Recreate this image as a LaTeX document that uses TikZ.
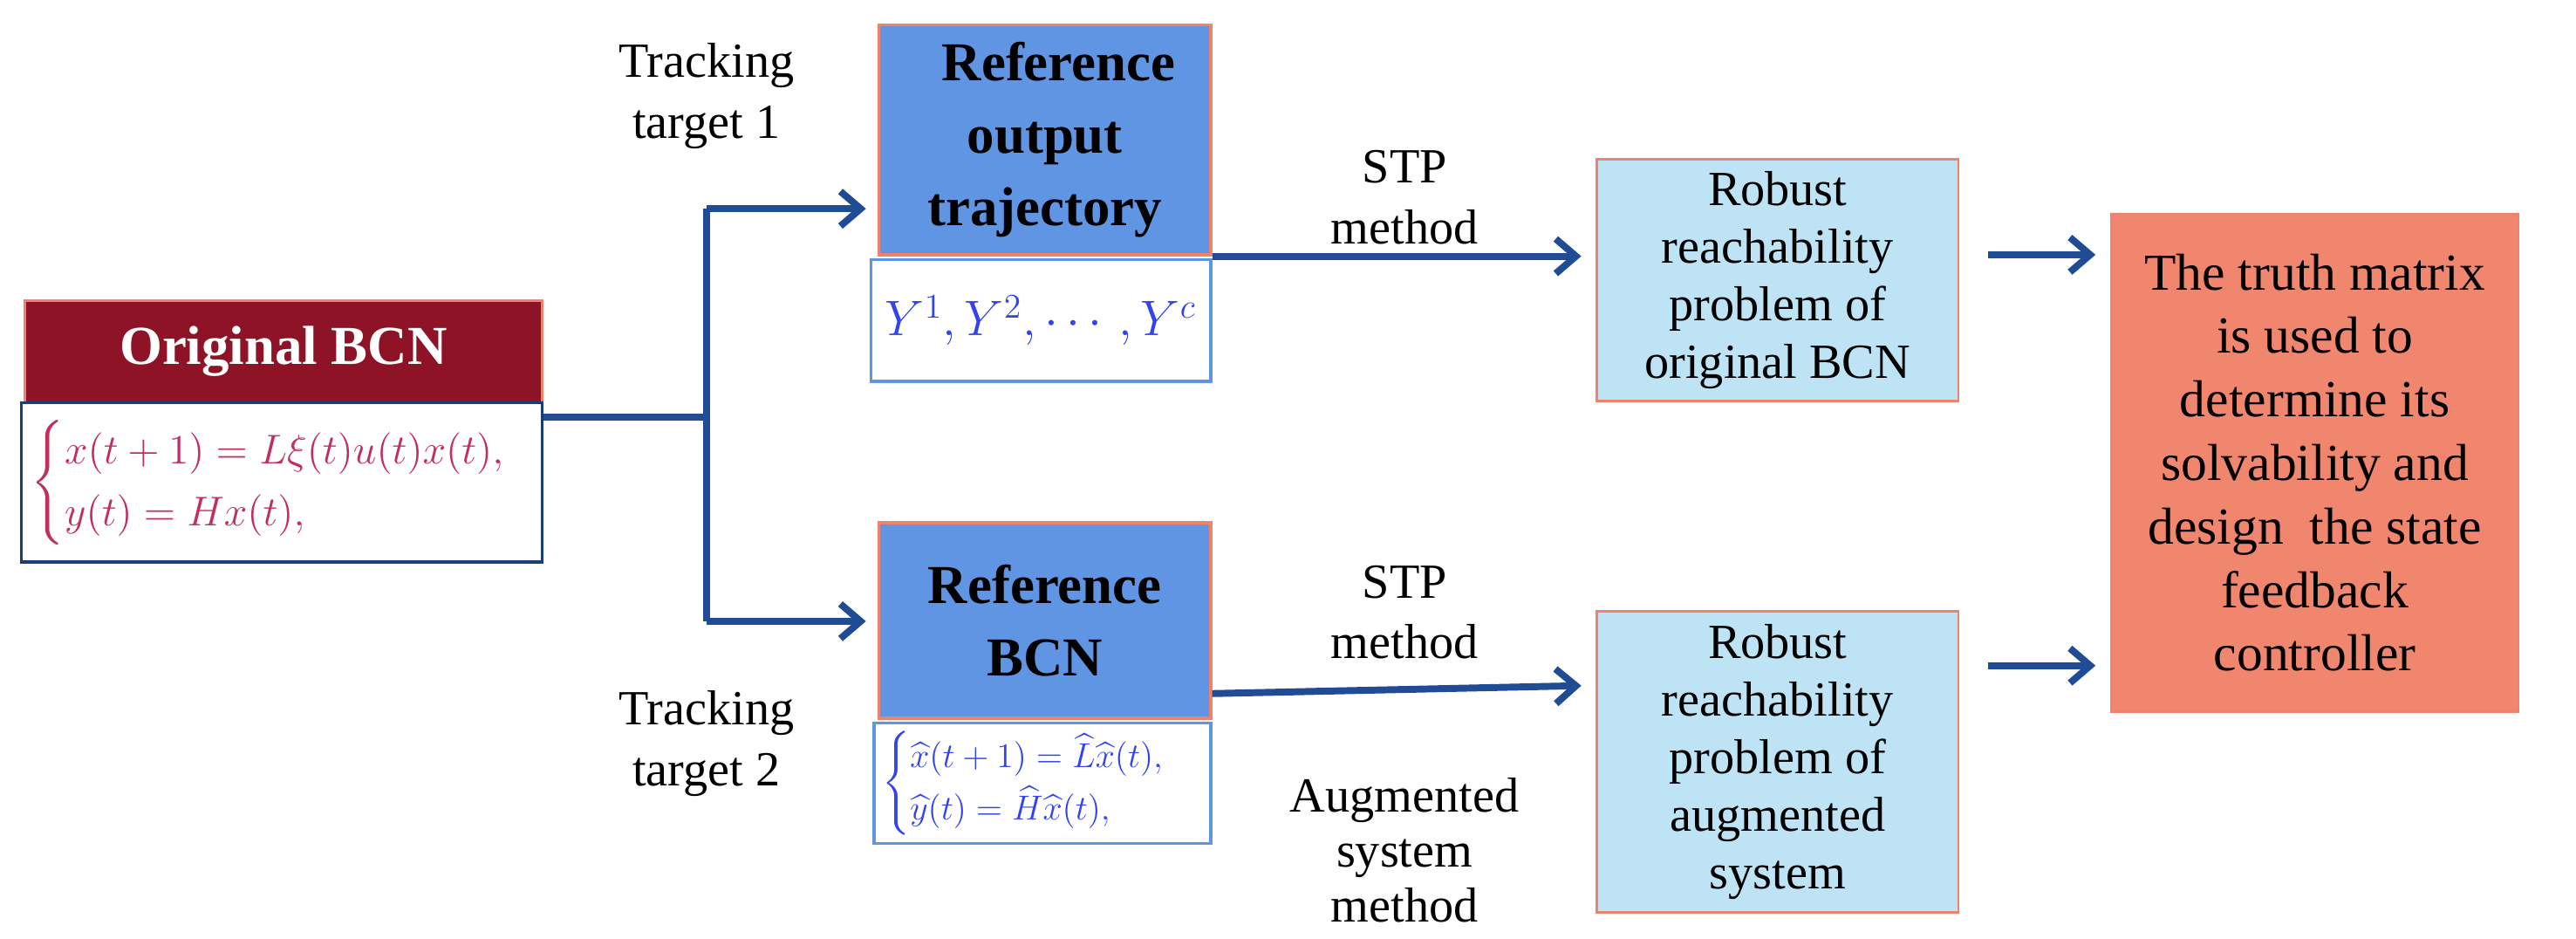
\documentclass[tikz,border=0pt]{standalone}
\usepackage{amsmath}
\usepackage{fontspec}
\setmainfont{Liberation Serif}
\usetikzlibrary{arrows.meta,calc}
\definecolor{darkred}{HTML}{8E1326}
\definecolor{salmon}{HTML}{F0826C}
\definecolor{midblue}{HTML}{5F95E3}
\definecolor{lightblue}{HTML}{BDE3F4}
\definecolor{coral}{HTML}{F0866E}
\definecolor{arrblue}{HTML}{1F4C94}
\definecolor{eqred}{HTML}{C0305A}
\definecolor{eqblue}{HTML}{3344EE}
\begin{document}
\begin{tikzpicture}[
  box/.style={draw, rectangle, inner sep=2pt, align=center, font=\fontsize{17}{20}\selectfont},
  lbl/.style={align=center, font=\fontsize{17}{21}\selectfont},
  ln/.style={draw=arrblue, line width=2.4pt},
  arr/.style={ln, -{Straight Barb[length=7pt,width=12pt,line width=2.4pt]}}
]
\useasboundingbox (0,0) rectangle (31.36,-11.42);
\node[box, fill=darkred, draw=salmon, line width=1pt, text=white, font=\fontsize{19}{22}\selectfont\bfseries, minimum width=6.3cm, minimum height=1.24cm] (orig) at (3.45,-4.28) {Original BCN};
\node[box, fill=white, draw=arrblue!80!black, line width=1pt, minimum width=6.34cm, minimum height=1.94cm, text width=6.1cm, align=left, font=\fontsize{15}{18}\selectfont] (origeq) at (3.43,-5.87) {\color{eqred}$\begin{cases} x(t+1)=L\xi(t)u(t)x(t),\\ y(t)=Hx(t),\end{cases}$};
\node[box, fill=midblue, draw=salmon, line width=1pt, font=\fontsize{19}{25}\selectfont\bfseries, minimum width=4.04cm, minimum height=2.8cm] (refout) at (12.72,-1.70) {\hspace{0.5em}Reference\\output\\trajectory};
\node[box, fill=white, draw=midblue, line width=1pt, minimum width=4.14cm, minimum height=1.48cm, text=eqblue, font=\fontsize{17}{20}\selectfont] (ybox) at (12.67,-3.90) {$Y^1,Y^2,\cdots,Y^c$};
\node[box, fill=midblue, draw=salmon, line width=1pt, font=\fontsize{19}{25}\selectfont\bfseries, minimum width=4.04cm, minimum height=2.38cm] (refbcn) at (12.72,-7.55) {Reference\\BCN};
\node[box, fill=white, draw=midblue, line width=1pt, minimum width=4.1cm, minimum height=1.46cm, text width=3.9cm, align=left, font=\fontsize{12.5}{15}\selectfont] (refeq) at (12.69,-9.53) {\color{eqblue}$\begin{cases} \widehat{x}(t+1)=\widehat{L}\widehat{x}(t),\\ \widehat{y}(t)=\widehat{H}\widehat{x}(t),\end{cases}$};
\node[box, fill=lightblue, draw=salmon, line width=0.8pt, minimum width=4.4cm, minimum height=2.94cm] (rob1) at (21.64,-3.41) {Robust\\reachability\\problem of\\original BCN};
\node[box, fill=lightblue, draw=salmon, line width=0.8pt, minimum width=4.4cm, minimum height=3.66cm] (rob2) at (21.64,-9.27) {Robust\\reachability\\problem of\\augmented\\system};
\node[box, fill=coral, draw=salmon, line width=0.8pt, minimum width=4.96cm, minimum height=6.06cm, font=\fontsize{18}{22}\selectfont] (final) at (28.18,-5.63) {The truth matrix\\is used to\\determine its\\solvability and\\design\ \ the state\\feedback\\controller};
\node[lbl] (t1) at (8.6,-1.17) {Tracking\\target 1};
\node[lbl] (t2) at (8.6,-9.05) {Tracking\\target 2};
\node[lbl] (stp1) at (17.1,-2.4) {STP\\method};
\node[lbl] (stp2) at (17.1,-7.45) {STP\\method};
\node[lbl, font=\fontsize{17}{19}\selectfont] (aug) at (17.1,-10.35) {Augmented\\system\\method};
\coordinate (j) at (8.6,-5.08);
\coordinate (ja) at (8.6,-2.54);
\coordinate (jb) at (8.6,-7.56);
\draw[ln] (origeq.east|-j) -- (j);
\draw[ln] (ja) -- (jb);
\draw[arr, shorten >=4pt] (ja) -- (refout.west|-ja);
\draw[arr, shorten >=4pt] (jb) -- (refbcn.west|-jb);
\draw[arr, shorten >=5pt] (refout.south east) -- (rob1.west|-refout.south east);
\draw[arr, shorten >=5pt] ($(refbcn.east)+(0,-0.89)$) -- ($(rob2.west)+(0,0.93)$);
\coordinate (r1) at (24.2,-3.10);
\coordinate (r2) at (24.2,-8.10);
\draw[arr, shorten >=5pt] (r1) -- (final.west|-r1);
\draw[arr, shorten >=5pt] (r2) -- (final.west|-r2);
\end{tikzpicture}
\end{document}
